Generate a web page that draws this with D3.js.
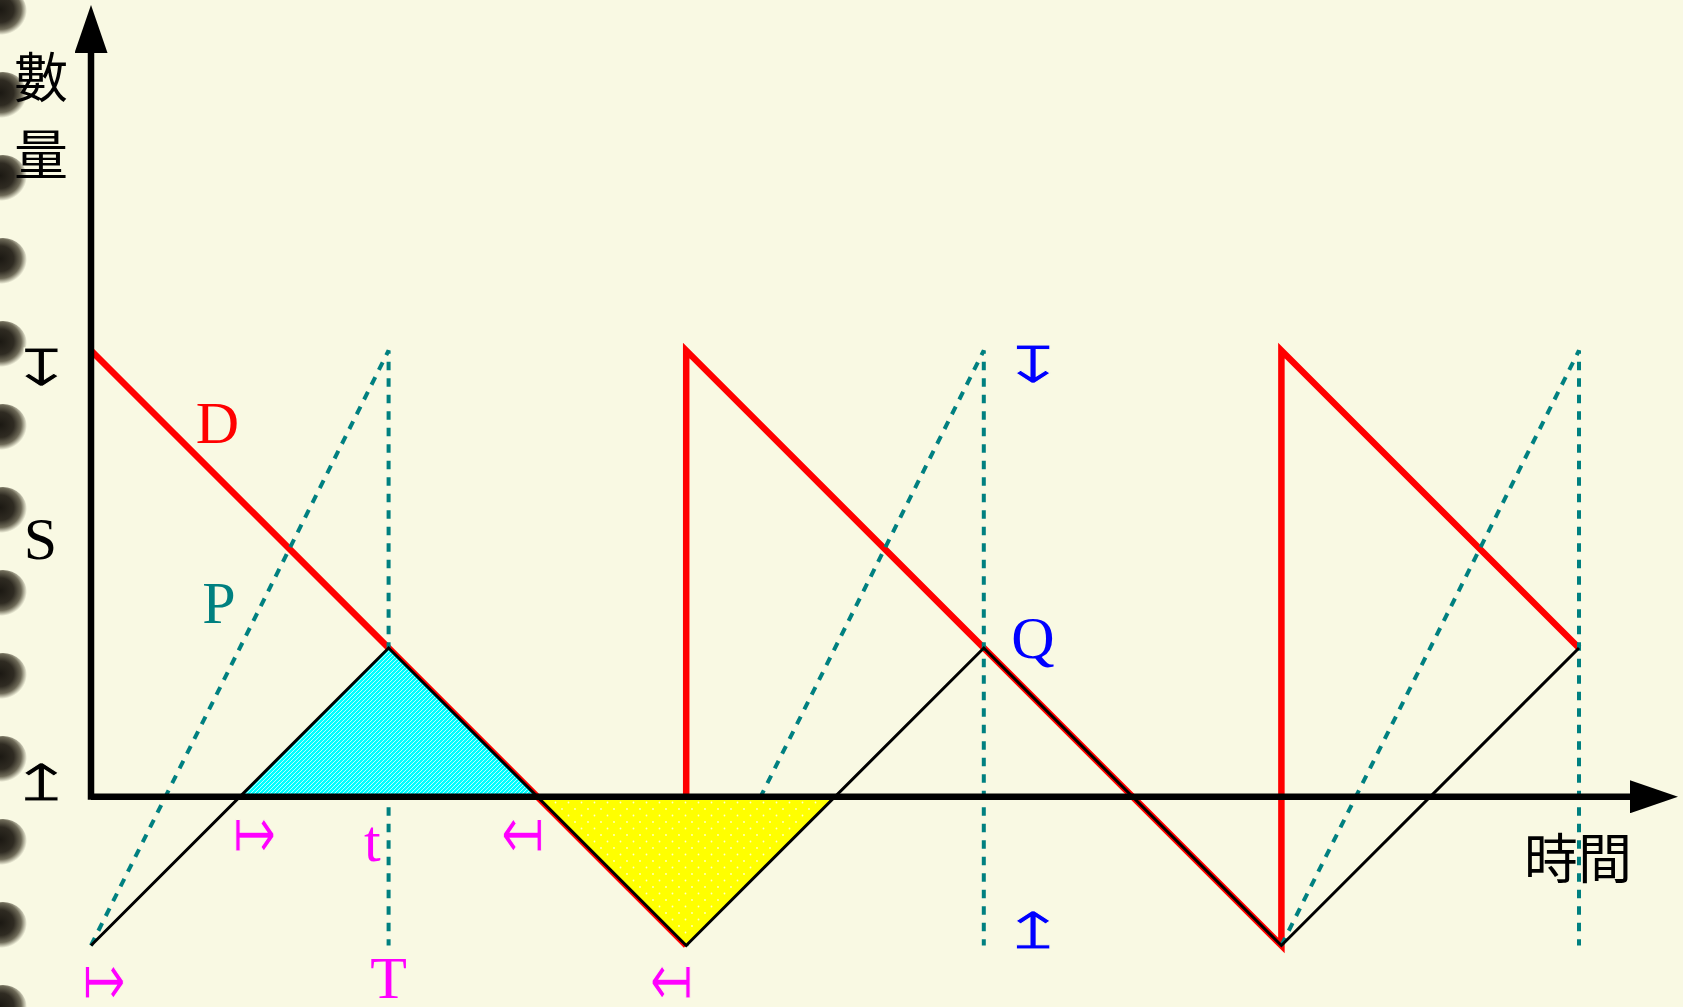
<!doctype html>
<html>
<head>
<meta charset="utf-8">
<script src="https://cdn.jsdelivr.net/npm/d3@7"></script>
<style>
  body { margin: 0; background: #f9f9e3; }
  svg { display: block; }
</style>
</head>
<body>
<div id="viz"></div>
<script>
// ---- data (time units / quantity units) ----
// red "D" demand line, as separate pieces
var demandPieces = [
  [[0, 3], [4, -1]],
  [[4, 0], [4, 3], [8, -1], [8, 3], [10, 1]]
];
// black zigzag (net stock)
var stockLine = [[0, -1], [2, 1], [4, -1], [6, 1], [8, -1], [10, 1]];
// dashed teal "P" production ramps and their drops
var prodPieces = [
  [[0, -1], [2, 3], [2, -1]],
  [[4, -1], [6, 3], [6, -1]],
  [[8, -1], [10, 3], [10, -1]]
];
// shaded areas
var surplusTri = [[1, 0], [2, 1], [3, 0]];
var shortTri = [[3, 0], [4, -1], [5, 0]];
// spiral binding holes (page y)
var holesY = [12, 95, 178, 261, 344, 427, 510, 593, 676, 759, 842, 925, 1008];

// letters: [text, x, y(baseline), colour]
var letters = [
  ["D", 0.85, 2.38, "#ff0000"],
  ["P", 0.86, 1.17, "#008080"],
  ["S", -0.34, 1.6, "#000000"],
  ["Q", 6.33, 0.93, "#0000ff"],
  ["t", 1.89, -0.43, "#ff00ff"],
  ["T", 2.0, -1.35, "#ff00ff"]
];
// range marks: [glyph, x, y(centre), colour]
var marks = [
  ["\u21A7", -0.335, 2.88, "#000000"],
  ["\u21A5", -0.335, 0.09, "#000000"],
  ["\u21A7", 6.33, 2.9, "#0000ff"],
  ["\u21A5", 6.33, -0.9, "#0000ff"],
  ["\u21A6", 1.1, -0.24, "#ff00ff"],
  ["\u21A4", 2.9, -0.24, "#ff00ff"],
  ["\u21A6", 0.09, -1.23, "#ff00ff"],
  ["\u21A4", 3.9, -1.23, "#ff00ff"]
];
// vertical marks get widened, horizontal ones get taller
var vertical = { "\u21A7": true, "\u21A5": true, "\u21A6": false, "\u21A4": false };

var W = 1683, H = 1007, bg = "#f9f9e3";
var x = d3.scaleLinear().domain([0, 10]).range([91, 1579]);
var y = d3.scaleLinear().domain([-1, 3]).range([945.5, 350.5]);

var svg = d3.select("#viz").append("svg")
    .attr("width", W).attr("height", H);

var defs = svg.append("defs");

// hole shading
var rg = defs.append("radialGradient").attr("id", "hole")
    .attr("cx", "45%").attr("cy", "45%").attr("r", "55%");
rg.append("stop").attr("offset", "0%").attr("stop-color", "#1c1913");
rg.append("stop").attr("offset", "50%").attr("stop-color", "#2f2b22");
rg.append("stop").attr("offset", "78%").attr("stop-color", "#6e6a58");
rg.append("stop").attr("offset", "100%").attr("stop-color", bg);

// cyan hatch
var hatch = defs.append("pattern").attr("id", "hatch")
    .attr("patternUnits", "userSpaceOnUse").attr("width", 4).attr("height", 4);
hatch.append("rect").attr("width", 4).attr("height", 4).attr("fill", "#00ffff");
hatch.append("path").attr("d", "M-1,1 l2,-2 M0,4 l4,-4 M3,5 l2,-2")
    .attr("stroke", "#e8ffff").attr("stroke-width", 0.8);

// yellow dots
var dots = defs.append("pattern").attr("id", "dots")
    .attr("patternUnits", "userSpaceOnUse").attr("width", 13).attr("height", 13);
dots.append("rect").attr("width", 13).attr("height", 13).attr("fill", "#ffff00");
dots.append("circle").attr("cx", 3).attr("cy", 3).attr("r", 0.9).attr("fill", "#ffffc8");
dots.append("circle").attr("cx", 9.5).attr("cy", 9.5).attr("r", 0.9).attr("fill", "#ffffc8");

// arrow head for the axes
defs.append("marker").attr("id", "ah")
    .attr("viewBox", "0 0 10 10").attr("refX", 0).attr("refY", 5)
    .attr("preserveAspectRatio", "none")
    .attr("markerUnits", "userSpaceOnUse")
    .attr("markerWidth", 48).attr("markerHeight", 33)
    .attr("orient", "auto")
    .append("path").attr("d", "M0,0 L10,5 L0,10 z").attr("fill", "#000");

// background
svg.append("rect").attr("width", W).attr("height", H).attr("fill", bg);

// binding holes
svg.selectAll("ellipse.hole").data(holesY).enter().append("ellipse")
    .attr("class", "hole")
    .attr("cx", 3).attr("cy", d => d)
    .attr("rx", 24).attr("ry", 23)
    .attr("fill", "url(#hole)");

var line = d3.line().x(d => x(d[0])).y(d => y(d[1]));

// red demand
svg.selectAll("path.demand").data(demandPieces).enter().append("path")
    .attr("class", "demand")
    .attr("d", line)
    .attr("fill", "none").attr("stroke", "#ff0000")
    .attr("stroke-width", 6.5).attr("stroke-linejoin", "miter");

// dashed production
svg.selectAll("path.prod").data(prodPieces).enter().append("path")
    .attr("class", "prod")
    .attr("d", line)
    .attr("fill", "none").attr("stroke", "#008080")
    .attr("stroke-width", 4).attr("stroke-dasharray", "8.5,8");

// shaded triangles
svg.append("path").attr("d", line(surplusTri) + "Z").attr("fill", "url(#hatch)");
svg.append("path").attr("d", line(shortTri) + "Z").attr("fill", "url(#dots)");

// black stock zigzag
svg.append("path").attr("d", line(stockLine))
    .attr("fill", "none").attr("stroke", "#000")
    .attr("stroke-width", 3).attr("stroke-linejoin", "miter");

// axes with arrow heads
svg.append("path")
    .attr("d", "M" + x(0) + "," + y(0) + " H1630")
    .attr("stroke", "#000").attr("stroke-width", 6.5).attr("fill", "none")
    .attr("marker-end", "url(#ah)");
svg.append("path")
    .attr("d", "M" + x(0) + "," + (y(0) + 3) + " V53")
    .attr("stroke", "#000").attr("stroke-width", 6.5).attr("fill", "none")
    .attr("marker-end", "url(#ah)");

// axis titles
var cjk = "'Noto Sans CJK TC', 'Noto Sans CJK SC', sans-serif";
svg.append("text").attr("x", 41).attr("y", 74)
    .attr("text-anchor", "middle").attr("dominant-baseline", "central")
    .style("font-family", cjk).style("font-size", "54px")
    .text("數");
svg.append("text").attr("x", 41).attr("y", 151)
    .attr("text-anchor", "middle").attr("dominant-baseline", "central")
    .style("font-family", cjk).style("font-size", "54px")
    .text("量");
svg.append("text").attr("x", 1578).attr("y", 855)
    .attr("text-anchor", "middle").attr("dominant-baseline", "central")
    .style("font-family", cjk).style("font-size", "54px")
    .text("時間");

// letters
svg.selectAll("text.lbl").data(letters).enter().append("text")
    .attr("class", "lbl")
    .attr("x", d => x(d[1])).attr("y", d => y(d[2]))
    .attr("text-anchor", "middle")
    .style("font-family", "'Liberation Serif', serif")
    .style("font-size", "60px")
    .attr("fill", d => d[3])
    .text(d => d[0]);

// range marks as arrow glyphs, stretched to the size in the original;
// a background-coloured outline thins the stretched strokes
svg.selectAll("g.mk").data(marks).enter().append("g")
    .attr("class", "mk")
    .attr("transform", d => "translate(" + x(d[1]) + "," + y(d[2]) + ") scale(" +
        (vertical[d[0]] ? "1.55,1" : "1,1.45") + ")")
  .append("text")
    .attr("text-anchor", "middle").attr("dominant-baseline", "central")
    .style("font-family", "'DejaVu Sans'")
    .style("font-size", "52px")
    .attr("fill", d => d[3])
    .attr("stroke", bg).attr("stroke-width", 0.9)
    .text(d => d[0]);
</script>
</body>
</html>
